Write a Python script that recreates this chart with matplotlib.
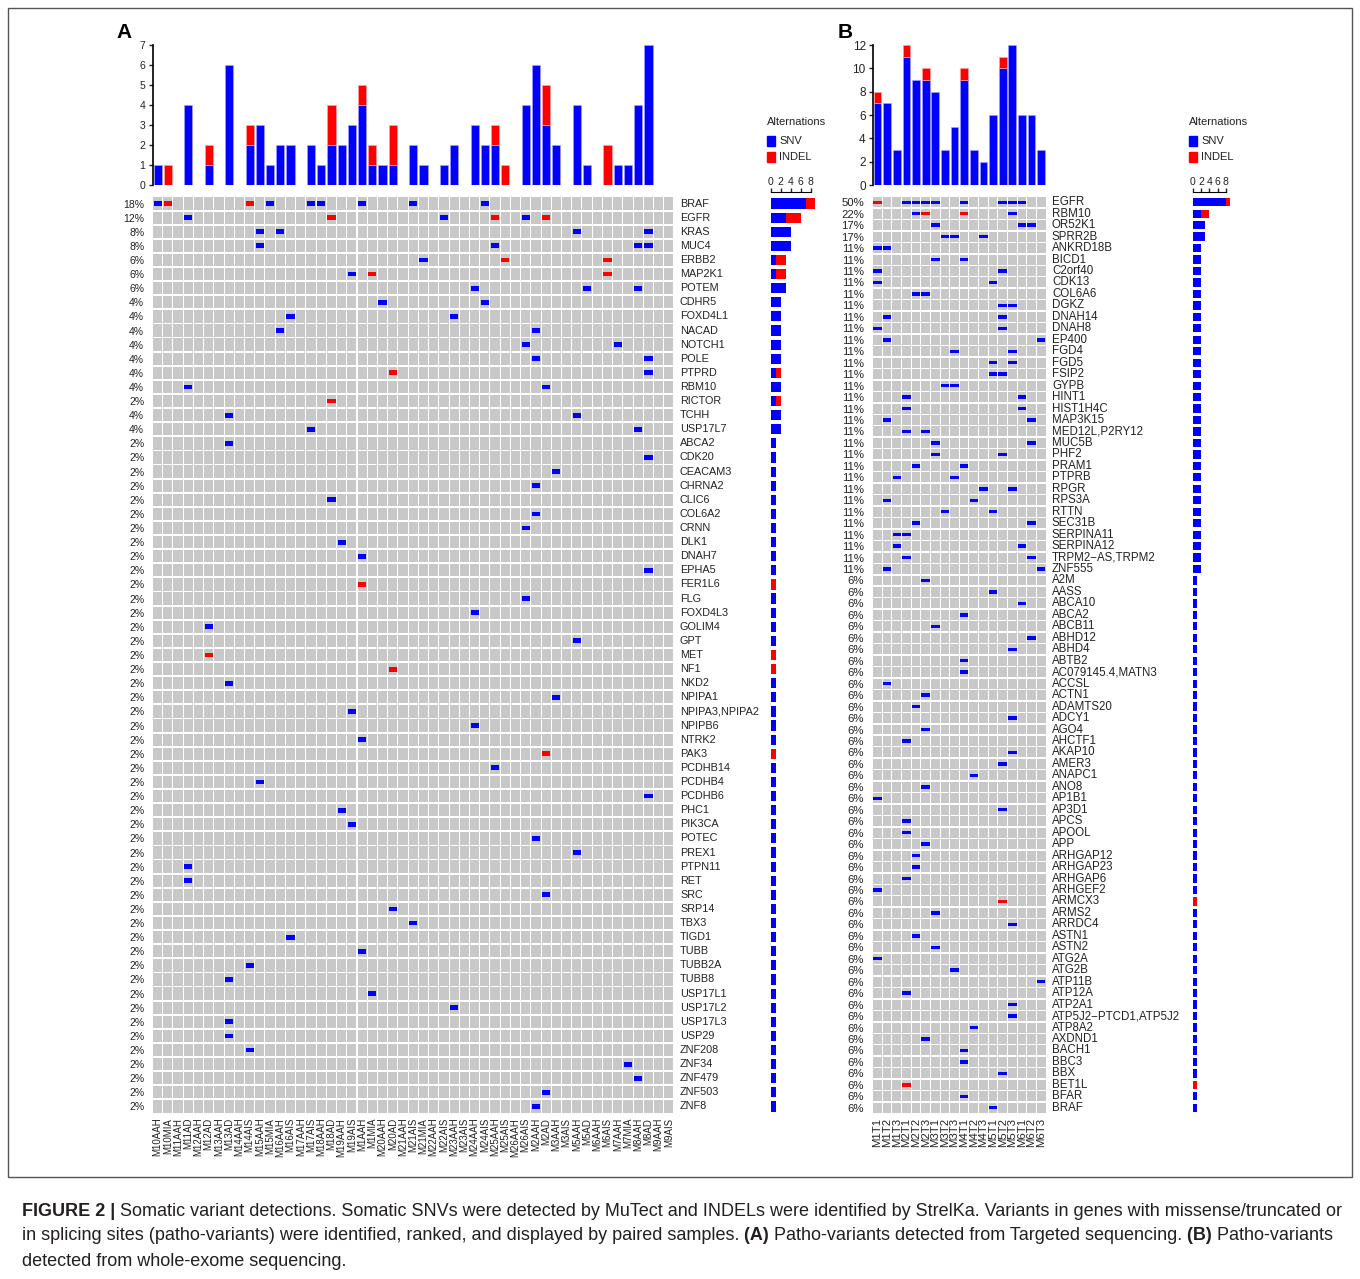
import numpy as np
import matplotlib
matplotlib.use("Agg")
import matplotlib.pyplot as plt
from matplotlib.patches import Rectangle

plt.rcParams['font.family'] = ['Liberation Sans', 'DejaVu Sans']

W, H = 1360, 1279
SNV_C = '#0000ff'
INDEL_C = '#ff0000'
CELL_C = '#c8c8c8'

# ---- A: targeted sequencing ----
a_samples = ['M10AAH', 'M10MIA', 'M11AAH', 'M11AD', 'M12AAH', 'M12AD', 'M13AAH', 'M13AD',
             'M14AAH', 'M14AIS', 'M15AAH', 'M15MIA', 'M16AAH', 'M16AIS', 'M17AAH', 'M17AIS',
             'M18AAH', 'M18AD', 'M19AAH', 'M19AIS', 'M1AAH', 'M1MIA', 'M20AAH', 'M20AD',
             'M21AAH', 'M21AIS', 'M21MIA', 'M22AAH', 'M22AIS', 'M23AAH', 'M23AIS', 'M24AAH',
             'M24AIS', 'M25AAH', 'M25AIS', 'M26AAH', 'M26AIS', 'M2AAH', 'M2AD', 'M3AAH',
             'M3AIS', 'M5AAH', 'M5AD', 'M6AAH', 'M6AIS', 'M7AAH', 'M7MIA', 'M8AAH', 'M8AD',
             'M9AAH', 'M9AIS']
a_genes = ['BRAF', 'EGFR', 'KRAS', 'MUC4', 'ERBB2', 'MAP2K1', 'POTEM', 'CDHR5', 'FOXD4L1',
           'NACAD', 'NOTCH1', 'POLE', 'PTPRD', 'RBM10', 'RICTOR', 'TCHH', 'USP17L7', 'ABCA2',
           'CDK20', 'CEACAM3', 'CHRNA2', 'CLIC6', 'COL6A2', 'CRNN', 'DLK1', 'DNAH7', 'EPHA5',
           'FER1L6', 'FLG', 'FOXD4L3', 'GOLIM4', 'GPT', 'MET', 'NF1', 'NKD2', 'NPIPA1',
           'NPIPA3,NPIPA2', 'NPIPB6', 'NTRK2', 'PAK3', 'PCDHB14', 'PCDHB4', 'PCDHB6', 'PHC1',
           'PIK3CA', 'POTEC', 'PREX1', 'PTPN11', 'RET', 'SRC', 'SRP14', 'TBX3', 'TIGD1',
           'TUBB', 'TUBB2A', 'TUBB8', 'USP17L1', 'USP17L2', 'USP17L3', 'USP29', 'ZNF208',
           'ZNF34', 'ZNF479', 'ZNF503', 'ZNF8']
# sample indices carrying an SNV / INDEL, one list per gene
a_snv = [[0, 11, 15, 16, 20, 25, 32], [3, 28, 36], [10, 12, 41, 48], [10, 33, 47, 48], [26], [19],
         [31, 42, 47], [22, 32], [13, 29], [12, 37], [36, 45], [37, 48], [48], [3, 38], [17],
         [7, 41], [15, 47], [7], [48], [39], [37], [17], [37], [36], [18], [20], [48],
         [], [36], [31], [5], [41], [], [], [7], [39],
         [19], [31], [20], [], [33], [10], [48], [18],
         [19], [37], [41], [3], [3], [38], [23], [25], [13],
         [20], [9], [7], [21], [29], [7], [7], [9],
         [46], [47], [38], [37]]
a_indel = [[1, 9], [17, 33, 38], [], [], [34, 44], [21, 44],
           [], [], [], [], [], [], [23], [], [17],
           [], [], [], [], [], [], [], [], [], [], [], [],
           [20], [], [], [], [], [5], [23], [], [],
           [], [], [], [38], [], [], [], [],
           [], [], [], [], [], [], [], [], [],
           [], [], [], [], [], [], [], [],
           [], [], [], []]
a_bar_snv = [1, 0, 0, 4, 0, 1, 0, 6, 0, 2, 3, 1, 2, 2, 0, 2, 1, 2, 2, 3, 4, 1, 1, 1, 0, 2,
             1, 0, 1, 2, 0, 3, 2, 2, 0, 0, 4, 6, 3, 2, 0, 4, 1, 0, 0, 1, 1, 4, 7, 0, 0]
a_bar_indel = [0, 1, 0, 0, 0, 1, 0, 0, 0, 1, 0, 0, 0, 0, 0, 0, 0, 2, 0, 0, 1, 1, 0, 2, 0, 0,
               0, 0, 0, 0, 0, 0, 0, 1, 1, 0, 0, 0, 2, 0, 0, 0, 0, 0, 2, 0, 0, 0, 0, 0, 0]

# ---- B: whole-exome sequencing ----
b_samples = ['M1T1', 'M1T2', 'M1T3', 'M2T1', 'M2T2', 'M2T3', 'M3T1', 'M3T2', 'M3T3',
             'M4T1', 'M4T2', 'M4T3', 'M5T1', 'M5T2', 'M5T3', 'M6T1', 'M6T2', 'M6T3']
b_genes = ['EGFR', 'RBM10', 'OR52K1', 'SPRR2B', 'ANKRD18B', 'BICD1', 'C2orf40', 'CDK13',
           'COL6A6', 'DGKZ', 'DNAH14', 'DNAH8', 'EP400', 'FGD4', 'FGD5', 'FSIP2', 'GYPB',
           'HINT1', 'HIST1H4C', 'MAP3K15', 'MED12L,P2RY12', 'MUC5B', 'PHF2', 'PRAM1',
           'PTPRB', 'RPGR', 'RPS3A', 'RTTN', 'SEC31B', 'SERPINA11', 'SERPINA12',
           'TRPM2\u2212AS,TRPM2', 'ZNF555', 'A2M', 'AASS', 'ABCA10', 'ABCA2', 'ABCB11',
           'ABHD12', 'ABHD4', 'ABTB2', 'AC079145.4,MATN3', 'ACCSL', 'ACTN1', 'ADAMTS20',
           'ADCY1', 'AGO4', 'AHCTF1', 'AKAP10', 'AMER3', 'ANAPC1', 'ANO8', 'AP1B1', 'AP3D1',
           'APCS', 'APOOL', 'APP', 'ARHGAP12', 'ARHGAP23', 'ARHGAP6', 'ARHGEF2', 'ARMCX3',
           'ARMS2', 'ARRDC4', 'ASTN1', 'ASTN2', 'ATG2A', 'ATG2B', 'ATP11B', 'ATP12A',
           'ATP2A1', 'ATP5J2\u2212PTCD1,ATP5J2', 'ATP8A2', 'AXDND1', 'BACH1', 'BBC3', 'BBX',
           'BET1L', 'BFAR', 'BRAF']
b_snv = [[3, 4, 5, 6, 9, 13, 14, 15], [4, 14], [6, 15, 16], [7, 8, 11], [0, 1], [6, 9],
         [0, 13], [0, 12], [4, 5], [13, 14], [1, 13], [0, 13], [1, 17], [8, 14], [12, 14],
         [12, 13], [7, 8], [3, 15], [3, 15], [1, 16], [3, 5], [6, 16], [6, 13], [4, 9],
         [2, 8], [11, 14], [1, 10], [7, 12], [4, 16], [2, 3], [2, 15], [3, 16], [1, 17],
         [5], [12], [15], [9], [6], [16], [14], [9], [9], [1], [5], [4], [14], [5], [3],
         [14], [13], [10], [5], [0], [13], [3], [3], [5], [4], [4], [3], [0], [],
         [6], [14], [4], [6], [0], [8], [17], [3], [14], [14], [10], [5], [9], [9], [13],
         [], [9], [12]]
b_indel = [[0], [5, 9]] + [[]] * 59 + [[13]] + [[]] * 15 + [[3]] + [[]] * 2
b_bar_snv = [7, 7, 3, 11, 9, 9, 8, 3, 5, 9, 3, 2, 6, 10, 12, 6, 6, 3]
b_bar_indel = [1, 0, 0, 1, 0, 1, 0, 0, 0, 1, 0, 0, 0, 1, 0, 0, 0, 0]

fig = plt.figure(figsize=(W / 100, H / 100), dpi=100)


def px_axes(x0, y0, x1, y1):
    return fig.add_axes([x0 / W, 1 - y1 / H, (x1 - x0) / W, (y1 - y0) / H])


def fig_text(x, y, s, **kw):
    return fig.text(x / W, 1 - y / H, s, **kw)


def draw_panel(samples, genes, snv, indel, bar_snv, bar_indel, x0, x1, sx0, sx1,
               ymax, yticks, letter, fs, mark_w, mark_h):
    n, g = len(samples), len(genes)
    cols = np.arange(n)
    rows = np.arange(g)
    bar_snv = np.array(bar_snv)
    bar_indel = np.array(bar_indel)

    # alterations per sample
    ax = px_axes(x0, 45, x1, 185)
    keep = bar_snv > 0
    ax.bar(cols[keep], bar_snv[keep], width=0.8, color=SNV_C, edgecolor='#a0a0ff', linewidth=0.5)
    keep = bar_indel > 0
    ax.bar(cols[keep], bar_indel[keep], bottom=bar_snv[keep], width=0.8, color=INDEL_C,
           edgecolor='#ffa0a0', linewidth=0.5)
    ax.set_xlim(-0.5, n - 0.5)
    ax.set_ylim(0, ymax)
    ax.set_yticks(yticks)
    ax.set_xticks([])
    for s in ['top', 'right', 'bottom']:
        ax.spines[s].set_visible(False)
    ax.spines['left'].set_linewidth(1.2)
    ax.tick_params(axis='y', length=3, width=1, labelsize=fs['tick'], pad=2, colors='#222222')
    ax.patch.set_alpha(0)
    fig_text(x0 - 28, 33, letter, fontsize=15, fontweight='bold', ha='center', va='center')

    # oncoprint grid
    gx = px_axes(x0, 196.5, x1, 1113.5)
    cx, cy = np.meshgrid(cols, rows)
    gx.bar(cx.ravel(), 0.87, bottom=cy.ravel() - 0.435, width=0.9, color=CELL_C)
    for lists, colr in [(snv, SNV_C), (indel, INDEL_C)]:
        mx = [c for r in rows for c in lists[r]]
        my = np.array([r for r in rows for c in lists[r]], dtype=float)
        gx.bar(mx, mark_h, bottom=my - mark_h / 2, width=mark_w, color=colr)
    gx.set_xlim(-0.5, n - 0.5)
    gx.set_ylim(g - 0.5, -0.5)
    for s in gx.spines.values():
        s.set_visible(False)
    pct = ['%d%%' % round(100 * len(set(snv[r]) | set(indel[r])) / n) for r in rows]
    gx.set_yticks(rows)
    gx.set_yticklabels(pct, fontsize=fs['pct'], color='#222222')
    gx.set_xticks(cols)
    gx.set_xticklabels(samples, rotation=90, fontsize=fs['sample'], color='#222222')
    gx.tick_params(axis='both', length=0)
    gx.tick_params(axis='y', pad=6)
    gx.tick_params(axis='x', pad=3)
    for r in rows:
        gx.annotate(genes[r], xy=(1, r), xycoords=('axes fraction', 'data'), xytext=(6, 0),
                    textcoords='offset pixels', ha='left', va='center',
                    fontsize=fs['gene'], color='#222222')

    # alterations per gene
    sx = px_axes(sx0, 196.5, sx1, 1113.5)
    s_cnt = np.array([len(v) for v in snv])
    i_cnt = np.array([len(v) for v in indel])
    keep = s_cnt > 0
    sx.barh(rows[keep], s_cnt[keep], height=0.72, color=SNV_C, clip_on=False)
    keep = i_cnt > 0
    sx.barh(rows[keep], i_cnt[keep], left=s_cnt[keep], height=0.72, color=INDEL_C, clip_on=False)
    sx.set_xlim(0, 8)
    sx.set_ylim(g - 0.5, -0.5)
    sx.set_yticks([])
    sx.xaxis.tick_top()
    sx.set_xticks([0, 2, 4, 6, 8])
    for s in ['bottom', 'left', 'right']:
        sx.spines[s].set_visible(False)
    sx.spines['top'].set_position(('outward', 3))
    sx.tick_params(axis='x', length=3, width=1, labelsize=fs['side'], pad=1, colors='#222222')
    sx.patch.set_alpha(0)

    # legend
    lx = sx0 - 4
    fig_text(lx, 122, 'Alternations', fontsize=8, va='center', ha='left', color='#222222')
    for yy, colr, lab in [(141, SNV_C, 'SNV'), (157, INDEL_C, 'INDEL')]:
        fig.patches.append(Rectangle((lx / W, 1 - (yy + 4.5) / H), 8 / W, 9 / H,
                                     transform=fig.transFigure, color=colr))
        fig_text(lx + 12, yy, lab, fontsize=8, va='center', ha='left', color='#222222')


draw_panel(a_samples, a_genes, a_snv, a_indel, a_bar_snv, a_bar_indel,
           152.5, 674, 771, 810.5, 7, range(8), 'A',
           dict(tick=7.5, pct=7.5, sample=7, gene=7.8, side=7.5), 0.8, 0.34)
draw_panel(b_samples, b_genes, b_snv, b_indel, b_bar_snv, b_bar_indel,
           872.7, 1046, 1193, 1225.7, 12, range(0, 13, 2), 'B',
           dict(tick=8.5, pct=8.2, sample=8.2, gene=8.3, side=7.5), 0.88, 0.3)

# frame around the figure body
fig.patches.append(Rectangle((8 / W, 1 - 1177 / H), 1344 / W, 1169 / H, transform=fig.transFigure,
                             fill=False, edgecolor='#555555', linewidth=1))

# caption, set run by run so bold pieces sit inline
caption = [
    [('FIGURE 2 |', True),
     (' Somatic variant detections. Somatic SNVs were detected by MuTect and INDELs were '
      'identified by StrelKa. Variants in genes with missense/truncated or', False)],
    [('in splicing sites (patho-variants) were identified, ranked, and displayed by paired '
      'samples.', False), (' (A)', True),
     (' Patho-variants detected from Targeted sequencing.', False), (' (B)', True),
     (' Patho-variants', False)],
    [('detected from whole-exome sequencing.', False)],
]
renderer = fig.canvas.get_renderer()


def advance(s, bold, size):
    w = []
    for txt in ('|' + s + '|', '||'):
        t = fig.text(0, 0, txt, fontsize=size, fontweight='bold' if bold else 'normal')
        w.append(t.get_window_extent(renderer).width)
        t.remove()
    return w[0] - w[1]


size = 12
line1 = sum(advance(s, b, size) for s, b in caption[0])
size = size * 1320 / line1
for i, runs in enumerate(caption):
    x = 22
    for s, b in runs:
        fig_text(x, 1211 + 25 * i, s, fontsize=size, fontweight='bold' if b else 'normal',
                 ha='left', va='center', color='#231f20')
        x += advance(s, b, size)

fig.savefig('out.png', dpi=100)
